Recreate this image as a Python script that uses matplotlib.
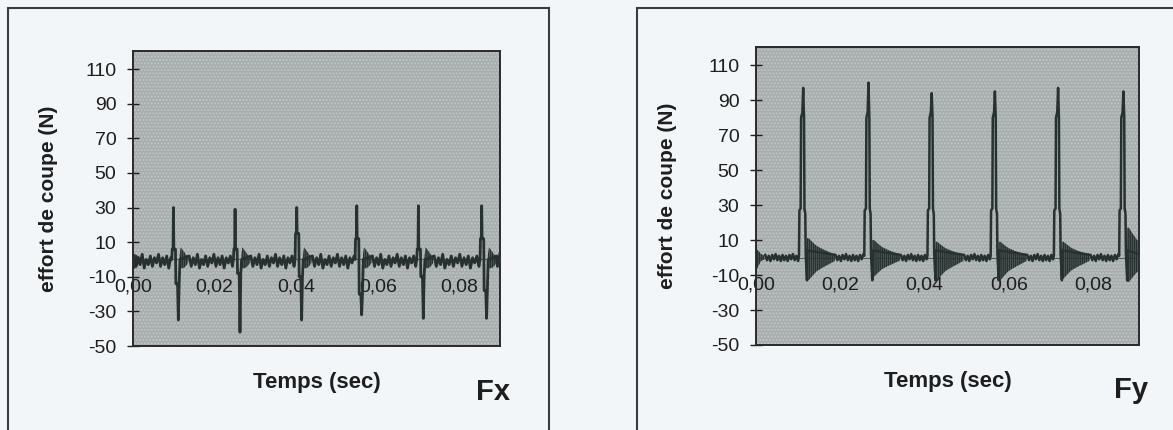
import numpy as np
import matplotlib.pyplot as plt
from matplotlib.patches import Rectangle

plt.rcParams['font.family'] = ['Liberation Sans', 'DejaVu Sans']
plt.rcParams['axes.unicode_minus'] = False
plt.rcParams['hatch.linewidth'] = 1.0

# axes / labels
Y_TICKS = [-50, -30, -10, 10, 30, 50, 70, 90, 110]
X_TICKS = [0.0, 0.02, 0.04, 0.06, 0.08]
X_TICK_LABELS = ['0,00', '0,02', '0,04', '0,06', '0,08']
Y_LABEL = 'effort de coupe (N)'
X_LABEL = 'Temps (sec)'

# ---- Fx : cutting force, x direction ----
FX_SPIKE_T = [0.0099, 0.0250, 0.0401, 0.0548, 0.0699, 0.0854]
FX_PEAK = [30, 29, 30, 31, 31, 31]
FX_STEP_UP = [6, 6, 15, 12, 6, 12]
FX_STEP_DOWN = [-14, -8, -10, -20, -10, -18]
FX_TROUGH = [-35, -42, -35, -32, -34, -34]
# spike profile: time offsets from each peak
FX_SHAPE_DT = [-0.0004, -0.0003, -0.0001, 0.0, 0.0001, 0.0005, 0.0006, 0.0010, 0.0012, 0.0014, 0.0016]
# ringing right after the negative spike
FX_BURST_DT = [0.0015, 0.0018, 0.0024, 0.0030, 0.0036]
FX_BURST_HI = [2, 7, 5, 3, 1]
FX_BURST_LO = [-3, -5, -5, -4, -2]
# baseline ripple between two teeth
FX_RIPPLE = [2, -4, 1, -3, 3, -5, 0, -3, 2, -4, 1, -2, 3, -4, 1, -3, 2, -5, 1, -2, 2, -4]

# ---- Fy : cutting force, y direction ----
FY_SPIKE_T = [0.0112, 0.0267, 0.0417, 0.0567, 0.0717, 0.0872]
FY_PEAK = [97, 100, 94, 95, 97, 95]
FY_SHAPE_DT = [-0.0010, -0.0009, -0.0006, -0.0005, -0.0002, 0.0, 0.0002, 0.0003, 0.0005, 0.0006, 0.0009, 0.0010]
FY_SHAPE_V = [1, 27, 28, 80, 83, None, 80, 28, 25, 2, -13, 4]
FY_RING_DT = [0.0009, 0.0013, 0.0022, 0.0032, 0.0045, 0.0060, 0.0075]
FY_RING_DECAY = [1.0, 1.0, 0.8, 0.6, 0.45, 0.3, 0.15]
FY_RING_HI = [11, 10, 9, 9, 9, 17]
FY_RING_LO = [-13, -11, -13, -13, -12, -14]
FY_NOISE = [1.5, -1.5, 1, -2, 1.5, -1, 2, -1.5, 1, -2]
FY_START_DT = [0.0, 0.0005, 0.0012, 0.0020]
FY_START_HI = [5, 4, 2, 1]
FY_START_LO = [-8, -5, -2, -1]

LINE = '#27312f'
PLOT_BG = '#a7adad'
FIG_BG = '#f3f6f8'


def spread(vals, t0, t1):
    # place read baseline values evenly between two times
    n = len(vals)
    ts = [t0 + (t1 - t0) * (i + 0.5) / n for i in range(n)]
    return ts, list(vals)


def build_fx():
    t, v = [], []
    start = 0.0
    for k, T in enumerate(FX_SPIKE_T):
        end = T + FX_SHAPE_DT[0]
        n = max(4, int((end - start) / 0.0005))
        rt, rv = spread((FX_RIPPLE * 2)[:n], start, end)
        t += rt
        v += rv
        shape = [0, FX_STEP_UP[k], FX_STEP_UP[k], FX_PEAK[k], FX_STEP_UP[k], FX_STEP_UP[k],
                 FX_STEP_DOWN[k], FX_STEP_DOWN[k], FX_TROUGH[k], FX_STEP_DOWN[k], 0]
        t += [T + d for d in FX_SHAPE_DT]
        v += shape
        start = T + FX_BURST_DT[-1]
    rt, rv = spread(FX_RIPPLE[:5], start, 0.0899)
    return t + rt, v + rv


def build_fy():
    t, v = [], []
    start = FY_START_DT[-1]
    for k, T in enumerate(FY_SPIKE_T):
        end = T + FY_SHAPE_DT[0]
        n = max(2, int((end - start) / 0.0004))
        rt, rv = spread((FY_NOISE * 4)[:n], start, end)
        t += rt
        v += rv
        t += [T + d for d in FY_SHAPE_DT]
        v += [FY_PEAK[k] if s is None else s for s in FY_SHAPE_V]
        start = T + FY_RING_DT[-1]
    t.append(0.0909)
    v.append(2)
    return t, v


def ring(ax, t, lo, hi):
    ax.fill_between(t, lo, hi, facecolor=(0.15, 0.19, 0.18, 0.6), edgecolor=LINE,
                    hatch='||||||||', lw=0, zorder=3)


def style_axes(ax, xmax):
    ax.set_facecolor(PLOT_BG)
    ax.add_patch(Rectangle((0, 0), 1, 1, transform=ax.transAxes, facecolor='none',
                           edgecolor='#c0c5c5', hatch='.....', lw=0, zorder=0))
    ax.set_xlim(0, xmax)
    ax.set_ylim(-50, 120.4)
    ax.set_yticks(Y_TICKS)
    ax.set_yticklabels([str(y) for y in Y_TICKS])
    ax.set_xticks(X_TICKS)
    ax.set_xticklabels(X_TICK_LABELS)
    ax.spines['bottom'].set_position(('data', 0))
    ax.spines['bottom'].set_color('#555b5a')
    ax.spines['bottom'].set_linewidth(0.8)
    for s in ('top', 'left', 'right'):
        ax.spines[s].set_color('#2a2a2a')
        ax.spines[s].set_linewidth(1.4)
    ax.plot([0, 1], [0, 0], transform=ax.transAxes, color='#2a2a2a', lw=1.4, clip_on=False, zorder=5)
    ax.tick_params(axis='y', direction='inout', length=8, width=1, pad=8,
                   labelsize=14, colors='#1e1e1e')
    ax.tick_params(axis='x', length=0, pad=14, labelsize=14, colors='#1e1e1e')
    ax.yaxis.set_label_coords(-0.205, 0.5)
    ax.set_ylabel(Y_LABEL, fontsize=15, fontweight='bold', color='#1e1e1e')
    ax.text(0.5, -0.123, X_LABEL, transform=ax.transAxes, ha='center', va='center',
            fontsize=16, fontweight='bold', color='#1e1e1e')


fig = plt.figure(figsize=(11.73, 4.30), dpi=100, facecolor=FIG_BG)

# outer frames of both charts
fig.patches.append(Rectangle((8 / 1173, -0.1), 541 / 1173, 1.1 - 8 / 430, transform=fig.transFigure,
                             facecolor='none', edgecolor='#3c3c3c', lw=1.5))
fig.patches.append(Rectangle((637 / 1173, -0.1), 0.5, 1.1 - 8 / 430, transform=fig.transFigure,
                             facecolor='none', edgecolor='#3c3c3c', lw=1.5))

ax1 = fig.add_axes([0.1134, 0.1953, 0.3129, 0.686])
ax2 = fig.add_axes([0.6445, 0.1977, 0.3265, 0.693])

# Fx
style_axes(ax1, 0.0899)
tx, vx = build_fx()
ax1.plot(tx, vx, color=LINE, lw=2.0, zorder=3)
for T in FX_SPIKE_T:
    ring(ax1, [T + d for d in FX_BURST_DT], FX_BURST_LO, FX_BURST_HI)
ring(ax1, FY_START_DT, [-6, -5, -3, -1], [3, 3, 2, 1])

# Fy
style_axes(ax2, 0.0909)
ty, vy = build_fy()
ax2.plot(ty, vy, color=LINE, lw=1.8, zorder=3)
ring(ax2, FY_START_DT, FY_START_LO, FY_START_HI)
for k, T in enumerate(FY_SPIKE_T):
    ring(ax2, [T + d for d in FY_RING_DT],
         [FY_RING_LO[k] * f for f in FY_RING_DECAY],
         [FY_RING_HI[k] * f for f in FY_RING_DECAY])

fig.text(493 / 1173, 1 - 392 / 430, 'Fx', ha='center', va='center', fontsize=21,
         fontweight='bold', color='#1e1e1e')
fig.text(1131 / 1173, 1 - 390 / 430, 'Fy', ha='center', va='center', fontsize=21,
         fontweight='bold', color='#1e1e1e')

fig.savefig('out.png', dpi=100, facecolor=FIG_BG)
